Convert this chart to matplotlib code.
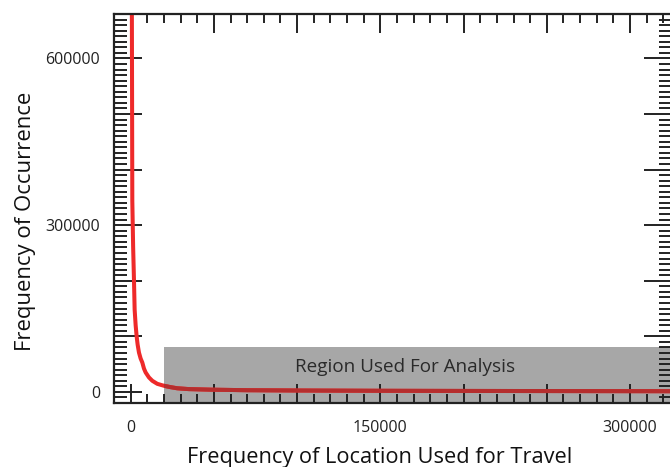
import matplotlib
matplotlib.use("Agg")
import matplotlib.pyplot as plt
from matplotlib.patches import Rectangle
from matplotlib.ticker import MultipleLocator, FuncFormatter

plt.rcParams['font.family'] = ['Open Sans', 'DejaVu Sans']

# data
x_vals = [700, 800, 1000, 1500, 2000, 2400, 3000, 3600, 4200, 5000, 6000, 7000, 8000,
          9000, 11000, 13000, 16000, 20000, 24000, 28000, 35000, 48000, 70000,
          100000, 150000, 200000, 250000, 300000, 325000]
y_vals = [720000, 600000, 343600, 260000, 201000, 148000, 120000, 100000, 85000, 70700,
          60000, 52900, 42000, 35000, 26000, 20000, 14500, 11000, 8500, 6500, 5000,
          4000, 3000, 2500, 2000, 1700, 1500, 1300, 1200]

x_tick_labels = [0, 150000, 300000]
y_tick_labels = [0, 300000, 600000]
region_x = [20000, 400000]
region_y = [-20000, 80000]
region_label = "Region Used For Analysis"

fig = plt.figure(figsize=(6.7, 4.67), dpi=100)
ax = fig.add_axes([114/670, 1 - 403/467, (671.7 - 114)/670, (403 - 14)/467])
ax.set_xlim(-10000, 325000)
ax.set_ylim(-20000, 680000)

rect = Rectangle((region_x[0], region_y[0]), region_x[1] - region_x[0],
                 region_y[1] - region_y[0], facecolor='#a7a7a7', edgecolor='none', zorder=1)
ax.add_patch(rect)
ax.plot(x_vals, y_vals, color='#ee2a2a', lw=2.9, zorder=2)
dark, = ax.plot(x_vals, y_vals, color='#b52e2e', lw=2.9, zorder=2.1)
dark.set_clip_path(rect)

ax.text(165000, 44000, region_label, ha='center', va='center',
        fontsize=13.6, color='#2a2a2a', zorder=3)

def fmt_factory(shown):
    def f(v, pos):
        iv = int(round(v))
        return str(iv) if iv in shown else ""
    return FuncFormatter(f)

ax.xaxis.set_major_locator(MultipleLocator(50000))
ax.yaxis.set_major_locator(MultipleLocator(100000))
ax.xaxis.set_major_formatter(fmt_factory(x_tick_labels))
ax.yaxis.set_major_formatter(fmt_factory(y_tick_labels))
ax.xaxis.set_minor_locator(MultipleLocator(10000))
ax.yaxis.set_minor_locator(MultipleLocator(10000))

ax.tick_params(axis='both', which='both', direction='in', top=True, right=True,
               color='#222222', width=1.4, labelsize=11.5, labelcolor='#222222')
ax.tick_params(axis='x', which='minor', length=6.7)
ax.tick_params(axis='x', which='major', length=14, pad=12)
ax.tick_params(axis='y', which='minor', length=9.4)
ax.tick_params(axis='y', which='major', length=20, pad=10)

for s in ax.spines.values():
    s.set_linewidth(1.6)
    s.set_color('#222222')

ax.set_xlabel("Frequency of Location Used for Travel", fontsize=15.7, color='#111111')
ax.xaxis.set_label_coords(0.477, -0.112)
ax.set_ylabel("Frequency of Occurrence", fontsize=15.9, color='#111111')
ax.yaxis.set_label_coords(-0.140, 0.468)

fig.savefig("out.png", dpi=100)
